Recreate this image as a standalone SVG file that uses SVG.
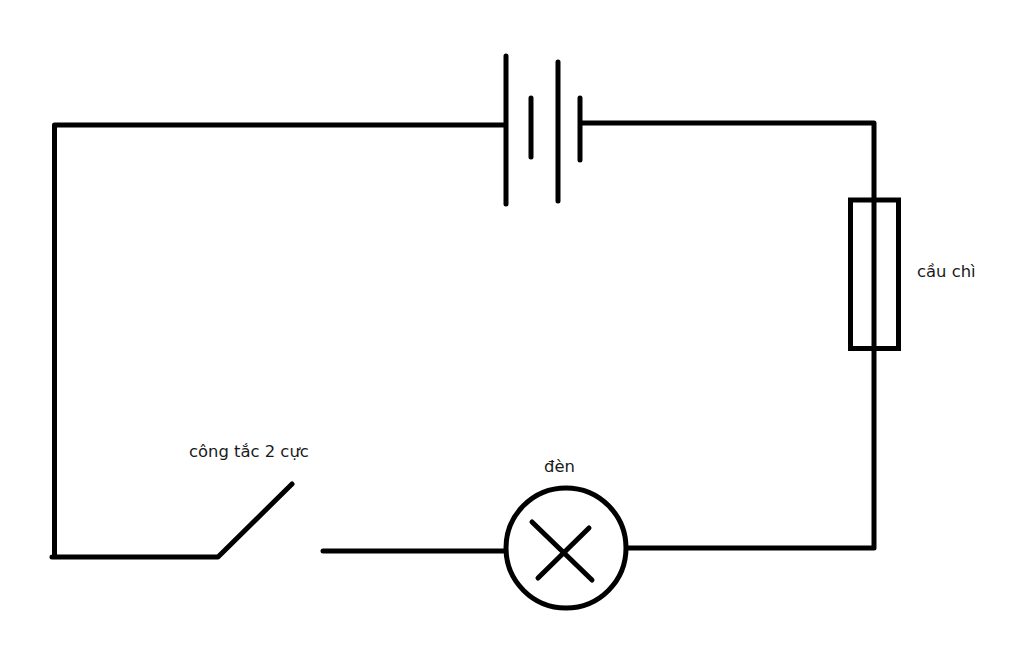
<svg xmlns="http://www.w3.org/2000/svg" width="1024" height="669" viewBox="0 0 1024 669">
<style>
.w{fill:none;stroke:#000;stroke-width:5;stroke-linecap:round;stroke-linejoin:round}
.t{font-family:"DejaVu Sans",sans-serif;font-size:16.400px;fill:#1a1a1a}
</style>
<rect width="1024" height="669" fill="#fff"/>
<g id="connectors">
<path class="w" d="M505 125H54.500V557H52M54.500 557H218L292 484"/>
<path class="w" d="M581 123H874V548H627"/>
<path class="w" d="M323 551H505"/>
</g>
<g id="battery">
<path class="w" d="M506 56V204M531 98V157M558 62V201M580 98V160"/>
</g>
<g id="fuse">
<rect x="850.500" y="200" width="48" height="148.500" fill="none" stroke="#000" stroke-width="5"/>
<text class="t" x="917" y="277">cầu chì</text>
</g>
<g id="lamp">
<circle cx="566" cy="548" r="60" fill="#fff" stroke="#000" stroke-width="5"/>
<path class="w" d="M532 522L592 580M538 578L589 528"/>
<text class="t" x="544" y="472">đèn</text>
</g>
<g id="switch">
<text class="t" x="189" y="457">công tắc 2 cực</text>
</g>
</svg>
